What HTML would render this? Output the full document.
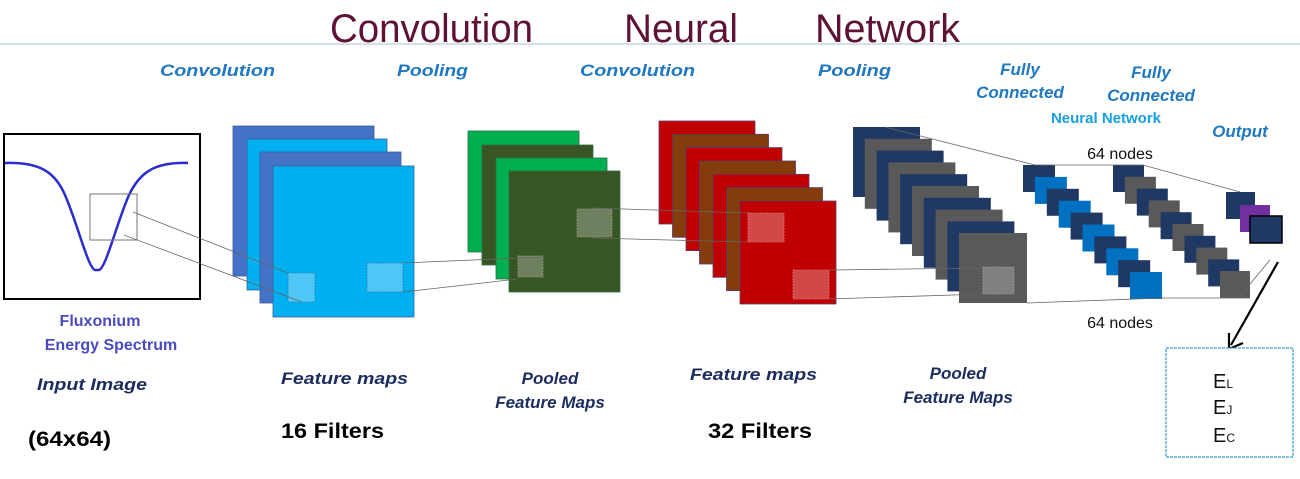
<!DOCTYPE html>
<html><head><meta charset="utf-8"><style>
html,body{margin:0;padding:0;background:#fff;width:1300px;height:479px;overflow:hidden}
svg{display:block}
.lb{font-family:"Liberation Sans",sans-serif;font-weight:bold;font-style:italic;font-size:17px;fill:#1F78C1}
.nv{font-family:"Liberation Sans",sans-serif;font-weight:bold;font-style:italic;font-size:17px;fill:#1B2C5E}
.bk{font-family:"Liberation Sans",sans-serif;font-weight:bold;font-size:21px;fill:#000}
.ln{stroke:#666;stroke-width:0.8;fill:none}
</style></head><body>
<svg width="1300" height="479" viewBox="0 0 1300 479" xmlns="http://www.w3.org/2000/svg">
<!-- title -->
<g font-family="Liberation Sans, sans-serif" font-size="40" fill="#5E1236">
<text x="330" y="42" textLength="203" lengthAdjust="spacingAndGlyphs">Convolution</text>
<text x="624" y="42" textLength="114" lengthAdjust="spacingAndGlyphs">Neural</text>
<text x="815" y="42" textLength="145" lengthAdjust="spacingAndGlyphs">Network</text>
</g>
<line x1="0" y1="44" x2="1300" y2="44" stroke="#A9BFD9" stroke-width="1"/>

<!-- top labels -->
<text class="lb" x="160" y="76" textLength="115" lengthAdjust="spacingAndGlyphs">Convolution</text>
<text class="lb" x="397" y="76" textLength="71" lengthAdjust="spacingAndGlyphs">Pooling</text>
<text class="lb" x="580" y="76" textLength="115" lengthAdjust="spacingAndGlyphs">Convolution</text>
<text class="lb" x="818" y="76" textLength="73" lengthAdjust="spacingAndGlyphs">Pooling</text>
<text class="lb" x="1020" y="75" text-anchor="middle">Fully</text>
<text class="lb" x="1020" y="98" text-anchor="middle">Connected</text>
<text class="lb" x="1151" y="78" text-anchor="middle">Fully</text>
<text class="lb" x="1151" y="101" text-anchor="middle">Connected</text>
<text x="1106" y="123" text-anchor="middle" font-family="Liberation Sans, sans-serif" font-weight="bold" font-size="15" fill="#17A0E0">Neural Network</text>
<text class="lb" x="1240" y="137" text-anchor="middle">Output</text>
<text x="1120" y="159" text-anchor="middle" font-family="Liberation Sans, sans-serif" font-size="16" fill="#111">64 nodes</text>
<text x="1120" y="328" text-anchor="middle" font-family="Liberation Sans, sans-serif" font-size="16" fill="#111">64 nodes</text>

<!-- input image -->
<rect x="4" y="134" width="196" height="165" fill="#fff" stroke="#000" stroke-width="2"/>
<path d="M5,163 C40,162 55,172 65,195 C78,225 88,268 95,270 L99,270 C106,268 116,225 129,195 C140,172 155,162 188,163" fill="none" stroke="#2B2BD0" stroke-width="2.5"/>
<rect x="90" y="194" width="47" height="46" fill="none" stroke="#777" stroke-width="1"/>

<!-- blue stack -->
<rect x="233" y="126" width="141" height="150" fill="#4472C4" stroke="#3A5FA0" stroke-width="0.8"/>
<rect x="247" y="139" width="140" height="151" fill="#00B0F0" stroke="#3A5FA0" stroke-width="0.8"/>
<rect x="260" y="152" width="141" height="151" fill="#4472C4" stroke="#3A5FA0" stroke-width="0.8"/>
<rect x="273" y="166" width="141" height="151" fill="#00B0F0" stroke="#3A5FA0" stroke-width="0.8"/>
<rect x="288" y="273" width="27" height="29" fill="#4FC6F5" stroke="#2C7FB0" stroke-width="0.8" stroke-dasharray="2,1"/>
<rect x="367" y="263" width="36" height="29" fill="#4FC6F5" stroke="#2C7FB0" stroke-width="0.8" stroke-dasharray="2,1"/>

<!-- green stack -->
<rect x="468" y="131" width="111" height="121" fill="#00B050" stroke="#2F6B4A" stroke-width="0.8"/>
<rect x="482" y="145" width="111" height="120" fill="#375623" stroke="#2F6B4A" stroke-width="0.8"/>
<rect x="496" y="158" width="111" height="121" fill="#00B050" stroke="#2F6B4A" stroke-width="0.8"/>
<rect x="509" y="171" width="111" height="121" fill="#375623" stroke="#2F6B4A" stroke-width="0.8"/>
<rect x="518" y="256" width="25" height="21" fill="#6E8060" stroke="#8A9A7A" stroke-width="0.8" stroke-dasharray="2,1"/>
<rect x="577" y="209" width="35" height="28" fill="#6E8060" stroke="#8A9A7A" stroke-width="0.8" stroke-dasharray="2,1"/>

<!-- red stack -->
<g stroke="#5A3A6A" stroke-width="0.8">
<rect x="659" y="121" width="96" height="103" fill="#C00000"/>
<rect x="672.5" y="134.3" width="96" height="103" fill="#843C0C"/>
<rect x="686" y="147.6" width="96" height="103" fill="#C00000"/>
<rect x="699.5" y="161" width="96" height="103" fill="#843C0C"/>
<rect x="713" y="174.3" width="96" height="103" fill="#C00000"/>
<rect x="726.5" y="187.6" width="96" height="103" fill="#843C0C"/>
<rect x="740" y="201" width="96" height="103" fill="#C00000"/>
</g>
<rect x="748" y="213" width="36" height="29" fill="#D04848" stroke="#E07070" stroke-width="0.8" stroke-dasharray="2,1"/>
<rect x="793" y="270" width="36" height="29" fill="#D04848" stroke="#E07070" stroke-width="0.8" stroke-dasharray="2,1"/>

<!-- navy/grey stack -->
<g>
<rect x="853" y="127" width="67" height="70" fill="#203864"/>
<rect x="864.8" y="138.8" width="67" height="70" fill="#595959"/>
<rect x="876.6" y="150.6" width="67" height="70" fill="#203864"/>
<rect x="888.4" y="162.4" width="67" height="70" fill="#595959"/>
<rect x="900.2" y="174.2" width="67" height="70" fill="#203864"/>
<rect x="912" y="186" width="67" height="70" fill="#595959"/>
<rect x="923.8" y="197.8" width="67" height="70" fill="#203864"/>
<rect x="935.6" y="209.6" width="67" height="70" fill="#595959"/>
<rect x="947.4" y="221.4" width="67" height="70" fill="#203864"/>
<rect x="959" y="233" width="68" height="70" fill="#595959"/>
</g>
<rect x="983" y="267" width="31" height="27" fill="#808080" stroke="#999" stroke-width="0.8" stroke-dasharray="2,1"/>

<!-- FC1 -->
<g>
<rect x="1023" y="165" width="32" height="27" fill="#203864"/>
<rect x="1034.9" y="176.9" width="32" height="27" fill="#0070C0"/>
<rect x="1046.8" y="188.8" width="32" height="27" fill="#203864"/>
<rect x="1058.7" y="200.7" width="32" height="27" fill="#0070C0"/>
<rect x="1070.6" y="212.6" width="32" height="27" fill="#203864"/>
<rect x="1082.5" y="224.5" width="32" height="27" fill="#0070C0"/>
<rect x="1094.4" y="236.4" width="32" height="27" fill="#203864"/>
<rect x="1106.3" y="248.3" width="32" height="27" fill="#0070C0"/>
<rect x="1118.2" y="260.2" width="32" height="27" fill="#203864"/>
<rect x="1130" y="272" width="32" height="27" fill="#0070C0"/>
</g>
<!-- FC2 -->
<g>
<rect x="1113" y="165" width="31" height="27" fill="#203864"/>
<rect x="1124.9" y="176.8" width="31" height="27" fill="#595959"/>
<rect x="1136.8" y="188.6" width="31" height="27" fill="#203864"/>
<rect x="1148.7" y="200.4" width="31" height="27" fill="#595959"/>
<rect x="1160.6" y="212.2" width="31" height="27" fill="#203864"/>
<rect x="1172.5" y="224" width="31" height="27" fill="#595959"/>
<rect x="1184.4" y="235.8" width="31" height="27" fill="#203864"/>
<rect x="1196.3" y="247.6" width="31" height="27" fill="#595959"/>
<rect x="1208.2" y="259.4" width="31" height="27" fill="#203864"/>
<rect x="1220" y="271" width="30" height="27" fill="#595959"/>
</g>
<!-- output -->
<rect x="1226" y="192" width="29" height="27" fill="#203864"/>
<rect x="1240" y="205" width="30" height="27" fill="#7030A0"/>
<rect x="1250" y="216" width="32" height="27" fill="#203864" stroke="#000" stroke-width="1.5"/>

<!-- connector lines -->
<line class="ln" x1="133" y1="212" x2="288" y2="273"/>
<line class="ln" x1="124" y1="235" x2="302" y2="302"/>
<line class="ln" x1="403" y1="263" x2="543" y2="257"/>
<line class="ln" x1="403" y1="292" x2="518" y2="279"/>
<line class="ln" x1="592" y1="208" x2="748" y2="213"/>
<line class="ln" x1="592" y1="238" x2="748" y2="242"/>
<line class="ln" x1="829" y1="270" x2="983" y2="268"/>
<line class="ln" x1="829" y1="299" x2="983" y2="294"/>
<line class="ln" x1="885" y1="127" x2="1035" y2="165"/>
<line class="ln" x1="1035" y1="165" x2="1143" y2="165"/>
<line class="ln" x1="1143" y1="165" x2="1240" y2="192"/>
<line class="ln" x1="1027" y1="303" x2="1162" y2="298"/>
<line class="ln" x1="1162" y1="298" x2="1250" y2="298"/>
<line class="ln" x1="1240" y1="296" x2="1270" y2="260"/>

<!-- arrow -->
<line x1="1278" y1="262" x2="1231" y2="345" stroke="#000" stroke-width="2.2"/>
<path d="M1229,349 L1229,333 M1229,349 L1243,343" stroke="#000" stroke-width="2.2" fill="none"/>

<!-- output box -->
<rect x="1166" y="348" width="127" height="109" fill="#fff" stroke="#3A9AD0" stroke-width="1.2" stroke-dasharray="3,1"/>
<g font-family="Liberation Sans, sans-serif" fill="#111">
<text x="1213" y="388" font-size="20">E<tspan font-size="12">L</tspan></text>
<text x="1213" y="414" font-size="20">E<tspan font-size="12">J</tspan></text>
<text x="1213" y="442" font-size="20">E<tspan font-size="12">C</tspan></text>
</g>

<!-- bottom labels -->
<g font-family="Liberation Sans, sans-serif" font-weight="bold" font-size="16" fill="#4B4BC0">
<text x="100" y="326" text-anchor="middle">Fluxonium</text>
<text x="111" y="350" text-anchor="middle">Energy Spectrum</text>
</g>
<text class="nv" x="37" y="390" textLength="110" lengthAdjust="spacingAndGlyphs">Input Image</text>
<text class="nv" x="281" y="384" textLength="127" lengthAdjust="spacingAndGlyphs">Feature maps</text>
<text class="nv" x="550" y="384" text-anchor="middle">Pooled</text>
<text class="nv" x="550" y="408" text-anchor="middle">Feature Maps</text>
<text class="nv" x="690" y="380" textLength="127" lengthAdjust="spacingAndGlyphs">Feature maps</text>
<text class="nv" x="958" y="379" text-anchor="middle">Pooled</text>
<text class="nv" x="958" y="403" text-anchor="middle">Feature Maps</text>
<text class="bk" x="28" y="446" textLength="83" lengthAdjust="spacingAndGlyphs">(64x64)</text>
<text class="bk" x="281" y="438" textLength="103" lengthAdjust="spacingAndGlyphs">16 Filters</text>
<text class="bk" x="708" y="438" textLength="104" lengthAdjust="spacingAndGlyphs">32 Filters</text>
</svg>
</body></html>
